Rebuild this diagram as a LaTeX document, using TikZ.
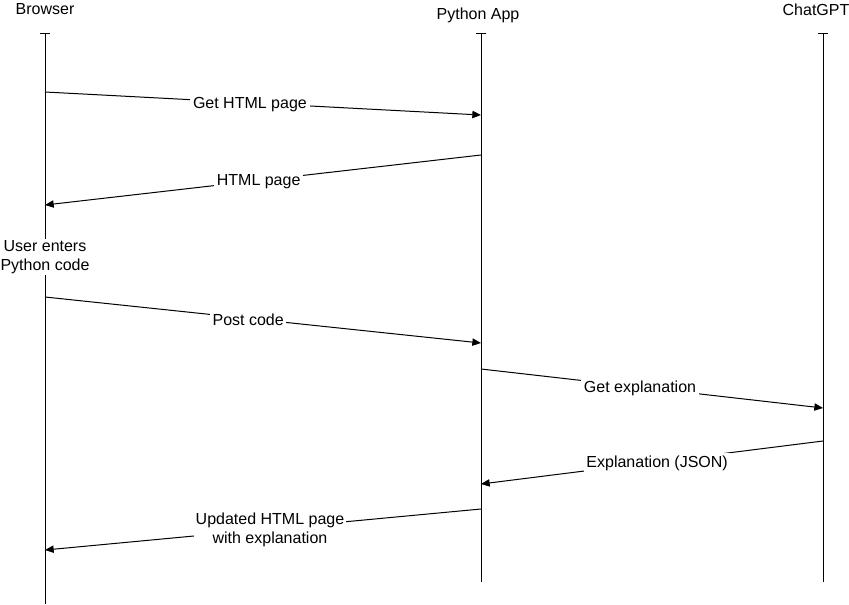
\documentclass[tikz,border=0pt]{standalone}
\usepackage{fontspec}
\setmainfont{Liberation Sans}
\usetikzlibrary{arrows.meta}
\tikzset{
lifeline/.style={black,line width=0.75pt},
msg/.style={black,line width=0.75pt,-{Triangle[length=6.5pt,width=5.5pt]}},
lbl/.style={fill=white,inner sep=2pt,font=\fontsize{12}{14.3}\selectfont,text=black,align=center},
}
\begin{document}
\begin{tikzpicture}[x=0.75pt,y=-0.75pt]
\useasboundingbox (0,0) rectangle (849,604);
% lifelines
\node[lbl,fill=none,anchor=base] (B) at (45,14.5) {Browser};
\node[lbl,fill=none,anchor=base] (P) at (478,19.5) {Python App};
\node[lbl,fill=none,anchor=base] (C) at (816,15.5) {ChatGPT};
\coordinate (Btop) at (45,33); \coordinate (Bend) at (45,604);
\coordinate (Ptop) at (481,33); \coordinate (Pend) at (481,582);
\coordinate (Ctop) at (823,33); \coordinate (Cend) at (823,582);
\draw[lifeline] (Btop) -- (Bend);
\draw[lifeline] (Ptop) -- (Pend);
\draw[lifeline] (Ctop) -- (Cend);
\draw[lifeline] ([xshift=-3.4pt]Btop) -- ([xshift=3.4pt]Btop);
\draw[lifeline] ([xshift=-3.4pt]Ptop) -- ([xshift=3.4pt]Ptop);
\draw[lifeline] ([xshift=-3.4pt]Ctop) -- ([xshift=3.4pt]Ctop);
\node[lbl,inner sep=1pt] (U) at (45,257) {User enters\\Python code};

% messages
\coordinate (b1) at (45,92); \coordinate (p1) at (481,115);
\draw[msg] (b1) -- node[lbl,pos=0.47,yshift=-1pt] (m1) {Get HTML page} (p1);
\coordinate (p2) at (481,155); \coordinate (b2) at (45,205);
\draw[msg] (p2) -- node[lbl,pos=0.51,yshift=-1pt] (m2) {HTML page} (b2);
\coordinate (b3) at (45,297); \coordinate (p3) at (481,343);
\draw[msg] (b3) -- node[lbl,pos=0.466,yshift=-1pt] (m3) {Post code} (p3);
\coordinate (p4) at (481,369); \coordinate (c4) at (823,408);
\draw[msg] (p4) -- node[lbl,pos=0.465,yshift=-1pt] (m4) {Get explanation} (c4);
\coordinate (c5) at (823,441); \coordinate (p5) at (481,484);
\draw[msg] (c5) -- node[lbl,pos=0.485,yshift=-1pt] (m5) {Explanation (JSON)} (p5);
\coordinate (p6) at (481,509); \coordinate (b6) at (45,550);
\draw[msg] (p6) -- node[lbl,pos=0.484,inner sep=1pt,yshift=-0.5pt] (m6) {Updated HTML page\\with explanation} (b6);
\end{tikzpicture}
\end{document}
